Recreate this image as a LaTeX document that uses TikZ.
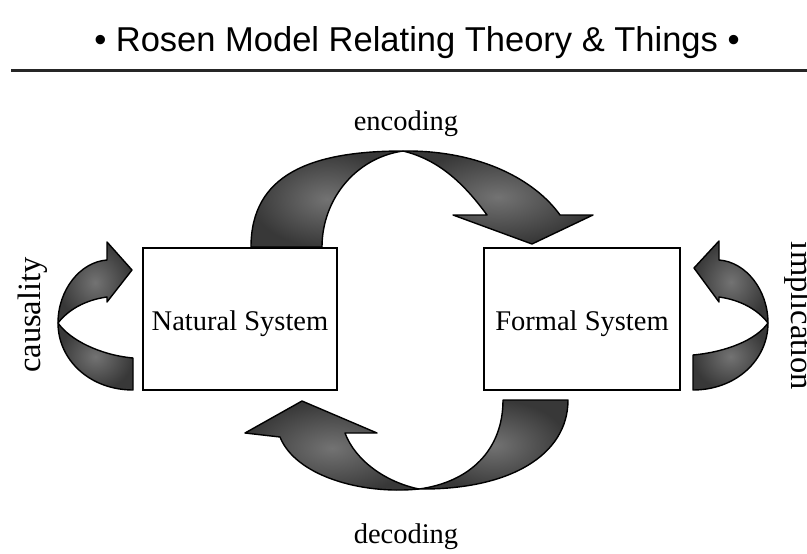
\documentclass[tikz,border=0pt]{standalone}
\usepackage{fontspec}
\setmainfont{Liberation Serif}
\newfontfamily\titlefont{Liberation Sans}
\begin{document}
\begin{tikzpicture}[x=1pt,y=-1pt,
  sysbox/.style={draw=black, line width=1.4pt, fill=white, inner sep=0pt,
    text height=22pt, text depth=0pt, font=\fontsize{28.5}{34}\selectfont},
  flowlabel/.style={anchor=base, font=\fontsize{28.5}{34}\selectfont},
  sidelabel/.style={anchor=base, font=\fontsize{32.5}{38}\selectfont},
  ribbon/.style={draw=black, line width=1.4pt, line join=round,
    shading=radial, inner color=black!55, outer color=black!78}]

% page frame
\useasboundingbox (0,0) rectangle (807,554);

% heading and rule
\node[anchor=base, font=\titlefont\fontsize{34.5}{40}\selectfont] (title) at (417,52)
  {\textbullet\ Rosen Model Relating Theory \& Things \textbullet};
\coordinate (ruleL) at (11,70);
\coordinate (ruleR) at (807,70);
\draw[line width=3pt, black!85] (ruleL) -- (ruleR);

% the two systems
\node[sysbox, minimum width=194pt, minimum height=142pt] (nat) at (240,319) {Natural System};
\node[sysbox, minimum width=196pt, minimum height=142pt] (form) at (582,319) {Formal System};

% encoding ribbon: rising half, then falling half with head
\draw[ribbon] (251,247) .. controls (251,175) and (310,151) .. (403,151)
  .. controls (355,158) and (322,200) .. (322,247) -- cycle;
\draw[ribbon] (403,151) .. controls (480,150) and (535,180) .. (560,215)
  -- (593,215) -- (532,244) -- (453,215) -- (487,215)
  .. controls (465,185) and (440,160) .. (403,151) -- cycle;

% decoding ribbon
\draw[ribbon] (568,400) .. controls (568,455) and (510,490) .. (419,489)
  .. controls (470,482) and (503,450) .. (503,400) -- cycle;
\draw[ribbon] (419,489) .. controls (360,495) and (295,475) .. (280,437)
  -- (245,433) -- (302,401) -- (377,433) -- (345,433)
  .. controls (355,460) and (385,482) .. (419,489) -- cycle;

% causality loop
\draw[ribbon] (133,390) .. controls (90,390) and (58,360) .. (58,323)
  .. controls (70,340) and (100,355) .. (133,358) -- cycle;
\draw[ribbon] (58,323) .. controls (58,290) and (80,262) .. (107,260)
  -- (107,242) -- (132,270) -- (107,302) -- (107,297)
  .. controls (85,300) and (68,310) .. (58,323) -- cycle;

% implication loop
\draw[ribbon] (693,390) .. controls (736,390) and (768,360) .. (768,323)
  .. controls (756,340) and (726,352) .. (693,355) -- cycle;
\draw[ribbon] (768,323) .. controls (768,290) and (746,262) .. (719,260)
  -- (719,241) -- (694,268) -- (719,302) -- (719,297)
  .. controls (741,300) and (758,310) .. (768,323) -- cycle;

% labels
\node[flowlabel] (enc) at (406,130) {encoding};
\node[flowlabel] (dec) at (406,543) {decoding};
\node[sidelabel, rotate=90] (caus) at (40,315) {causality};
\node[sidelabel, rotate=-90] (impl) at (791,316) {implication};
\end{tikzpicture}
\end{document}
